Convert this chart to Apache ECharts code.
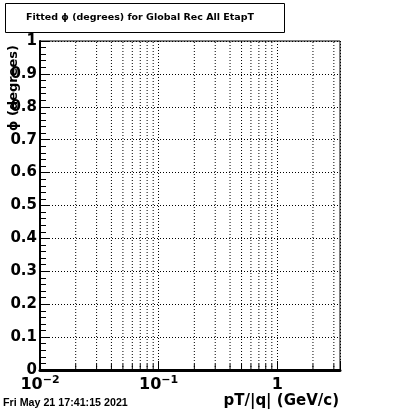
<!DOCTYPE html>
<html>
<head>
<meta charset="utf-8">
<script src="https://cdn.jsdelivr.net/npm/echarts@6/dist/echarts.min.js"></script>
<style>
html,body{margin:0;padding:0;background:#fff;}
#chart{width:400px;height:410px;}
</style>
</head>
<body>
<div id="chart"></div>
<script>
// ---- data (the histogram is empty: only axes, ticks and grid) ----
const titleText = 'Fitted \u03d5 (degrees) for Global Rec All EtapT';
const xTitle = 'pT/|q| (GeV/c)';
const yTitle = '\u03d5 (degrees)';
const dateText = 'Fri May 21 17:41:15 2021';
const xRange = [0.01, 3.38];
const yRange = [0, 1];
const yInterval = 0.1;
const xMajorTicks = [0.01, 0.1, 1];
const xMajorLabels = ['10^-2', '10^-1', '1'];
const xMinorTicks = [0.02, 0.03, 0.04, 0.05, 0.06, 0.07, 0.08, 0.09,
                     0.2, 0.3, 0.4, 0.5, 0.6, 0.7, 0.8, 0.9, 2, 3];

const chart = echarts.init(document.getElementById('chart'), null, {renderer: 'canvas'});
const FONT = 'DejaVu Sans';

function xLabel(v) {
  for (let i = 0; i < xMajorTicks.length; i++) {
    if (Math.abs(Math.log10(v) - Math.log10(xMajorTicks[i])) < 1e-6) {
      const s = xMajorLabels[i];
      const p = s.indexOf('^');
      if (p < 0) return '{b|' + s + '}';
      return '{b|' + s.slice(0, p) + '}{s|' + s.slice(p + 1).replace('-', '\u2212') + '}';
    }
  }
  return '';
}

const option = {
  animation: false,
  backgroundColor: '#fff',
  grid: {
    left: 40, right: 60, top: 41, bottom: 40,
    show: true, borderColor: '#000', borderWidth: 1, backgroundColor: 'transparent'
  },
  xAxis: {
    type: 'log', logBase: 10, min: xRange[0], max: xRange[1],
    axisLine: {show: true, onZero: false, lineStyle: {color: '#000', width: 3}},
    axisTick: {show: true, inside: true, length: 9, lineStyle: {color: '#000', width: 1}},
    minorTick: {show: false},
    splitLine: {show: true, lineStyle: {color: '#000', width: 1, type: [1, 2]}},
    axisLabel: {
      margin: 5, color: '#000',
      formatter: xLabel,
      rich: {
        b: {fontFamily: FONT, fontWeight: 'bold', fontSize: 16, color: '#000', verticalAlign: 'bottom', lineHeight: 18},
        s: {fontFamily: FONT, fontWeight: 'bold', fontSize: 11, color: '#000', verticalAlign: 'top', padding: [0, 0, 10, 0], lineHeight: 18}
      }
    }
  },
  yAxis: {
    type: 'value', min: yRange[0], max: yRange[1], interval: yInterval,
    axisLine: {show: true, lineStyle: {color: '#000', width: 2}},
    axisTick: {show: true, inside: true, length: 10, lineStyle: {color: '#000', width: 1}},
    minorTick: {show: true, splitNumber: 5, length: 6, lineStyle: {color: '#000', width: 1}},
    splitLine: {show: true, lineStyle: {color: '#000', width: 1, type: [1, 2]}},
    axisLabel: {
      margin: 3, color: '#000', fontFamily: FONT, fontWeight: 'bold', fontSize: 15,
      formatter: function (v) { return String(Math.round(v * 10) / 10); }
    }
  },
  series: [{
    type: 'custom',
    coordinateSystem: 'cartesian2d',
    silent: true,
    clip: true,
    data: xMinorTicks.map(v => [v, yRange[0]]),
    renderItem: function (params, api) {
      const v = api.value(0);
      const b = api.coord([v, yRange[0]]);
      const t = api.coord([v, yRange[1]]);
      return {
        type: 'group',
        children: [
          {type: 'line', shape: {x1: b[0], y1: b[1], x2: t[0], y2: t[1]},
           style: {stroke: '#000', lineWidth: 1, lineDash: [1, 2]}},
          {type: 'line', shape: {x1: b[0], y1: b[1], x2: b[0], y2: b[1] - 6},
           style: {stroke: '#000', lineWidth: 1}}
        ]
      };
    }
  }],
  graphic: [
    {type: 'rect', shape: {x: 5.5, y: 3.5, width: 279, height: 29},
     style: {fill: '#fff', stroke: '#000', lineWidth: 1}, z: 100},
    {type: 'text', x: 140, y: 18, z: 101,
     style: {text: titleText, font: 'bold 9.5px "DejaVu Sans"', fill: '#000', textAlign: 'center', textVerticalAlign: 'middle'}},
    {type: 'text', x: 14, y: 45, rotation: Math.PI / 2, z: 101,
     style: {text: yTitle, font: 'bold 13px "DejaVu Sans"', fill: '#000', textAlign: 'right', textVerticalAlign: 'middle'}},
    {type: 'text', x: 339, y: 401, z: 101,
     style: {text: xTitle, font: 'bold 15px "DejaVu Sans"', fill: '#000', textAlign: 'right', textVerticalAlign: 'middle'}},
    {type: 'text', x: 3, y: 403, z: 101,
     style: {text: dateText, font: 'bold 10.7px "Liberation Sans"', fill: '#000', textAlign: 'left', textVerticalAlign: 'middle'}}
  ]
};
chart.setOption(option);
</script>
</body>
</html>
